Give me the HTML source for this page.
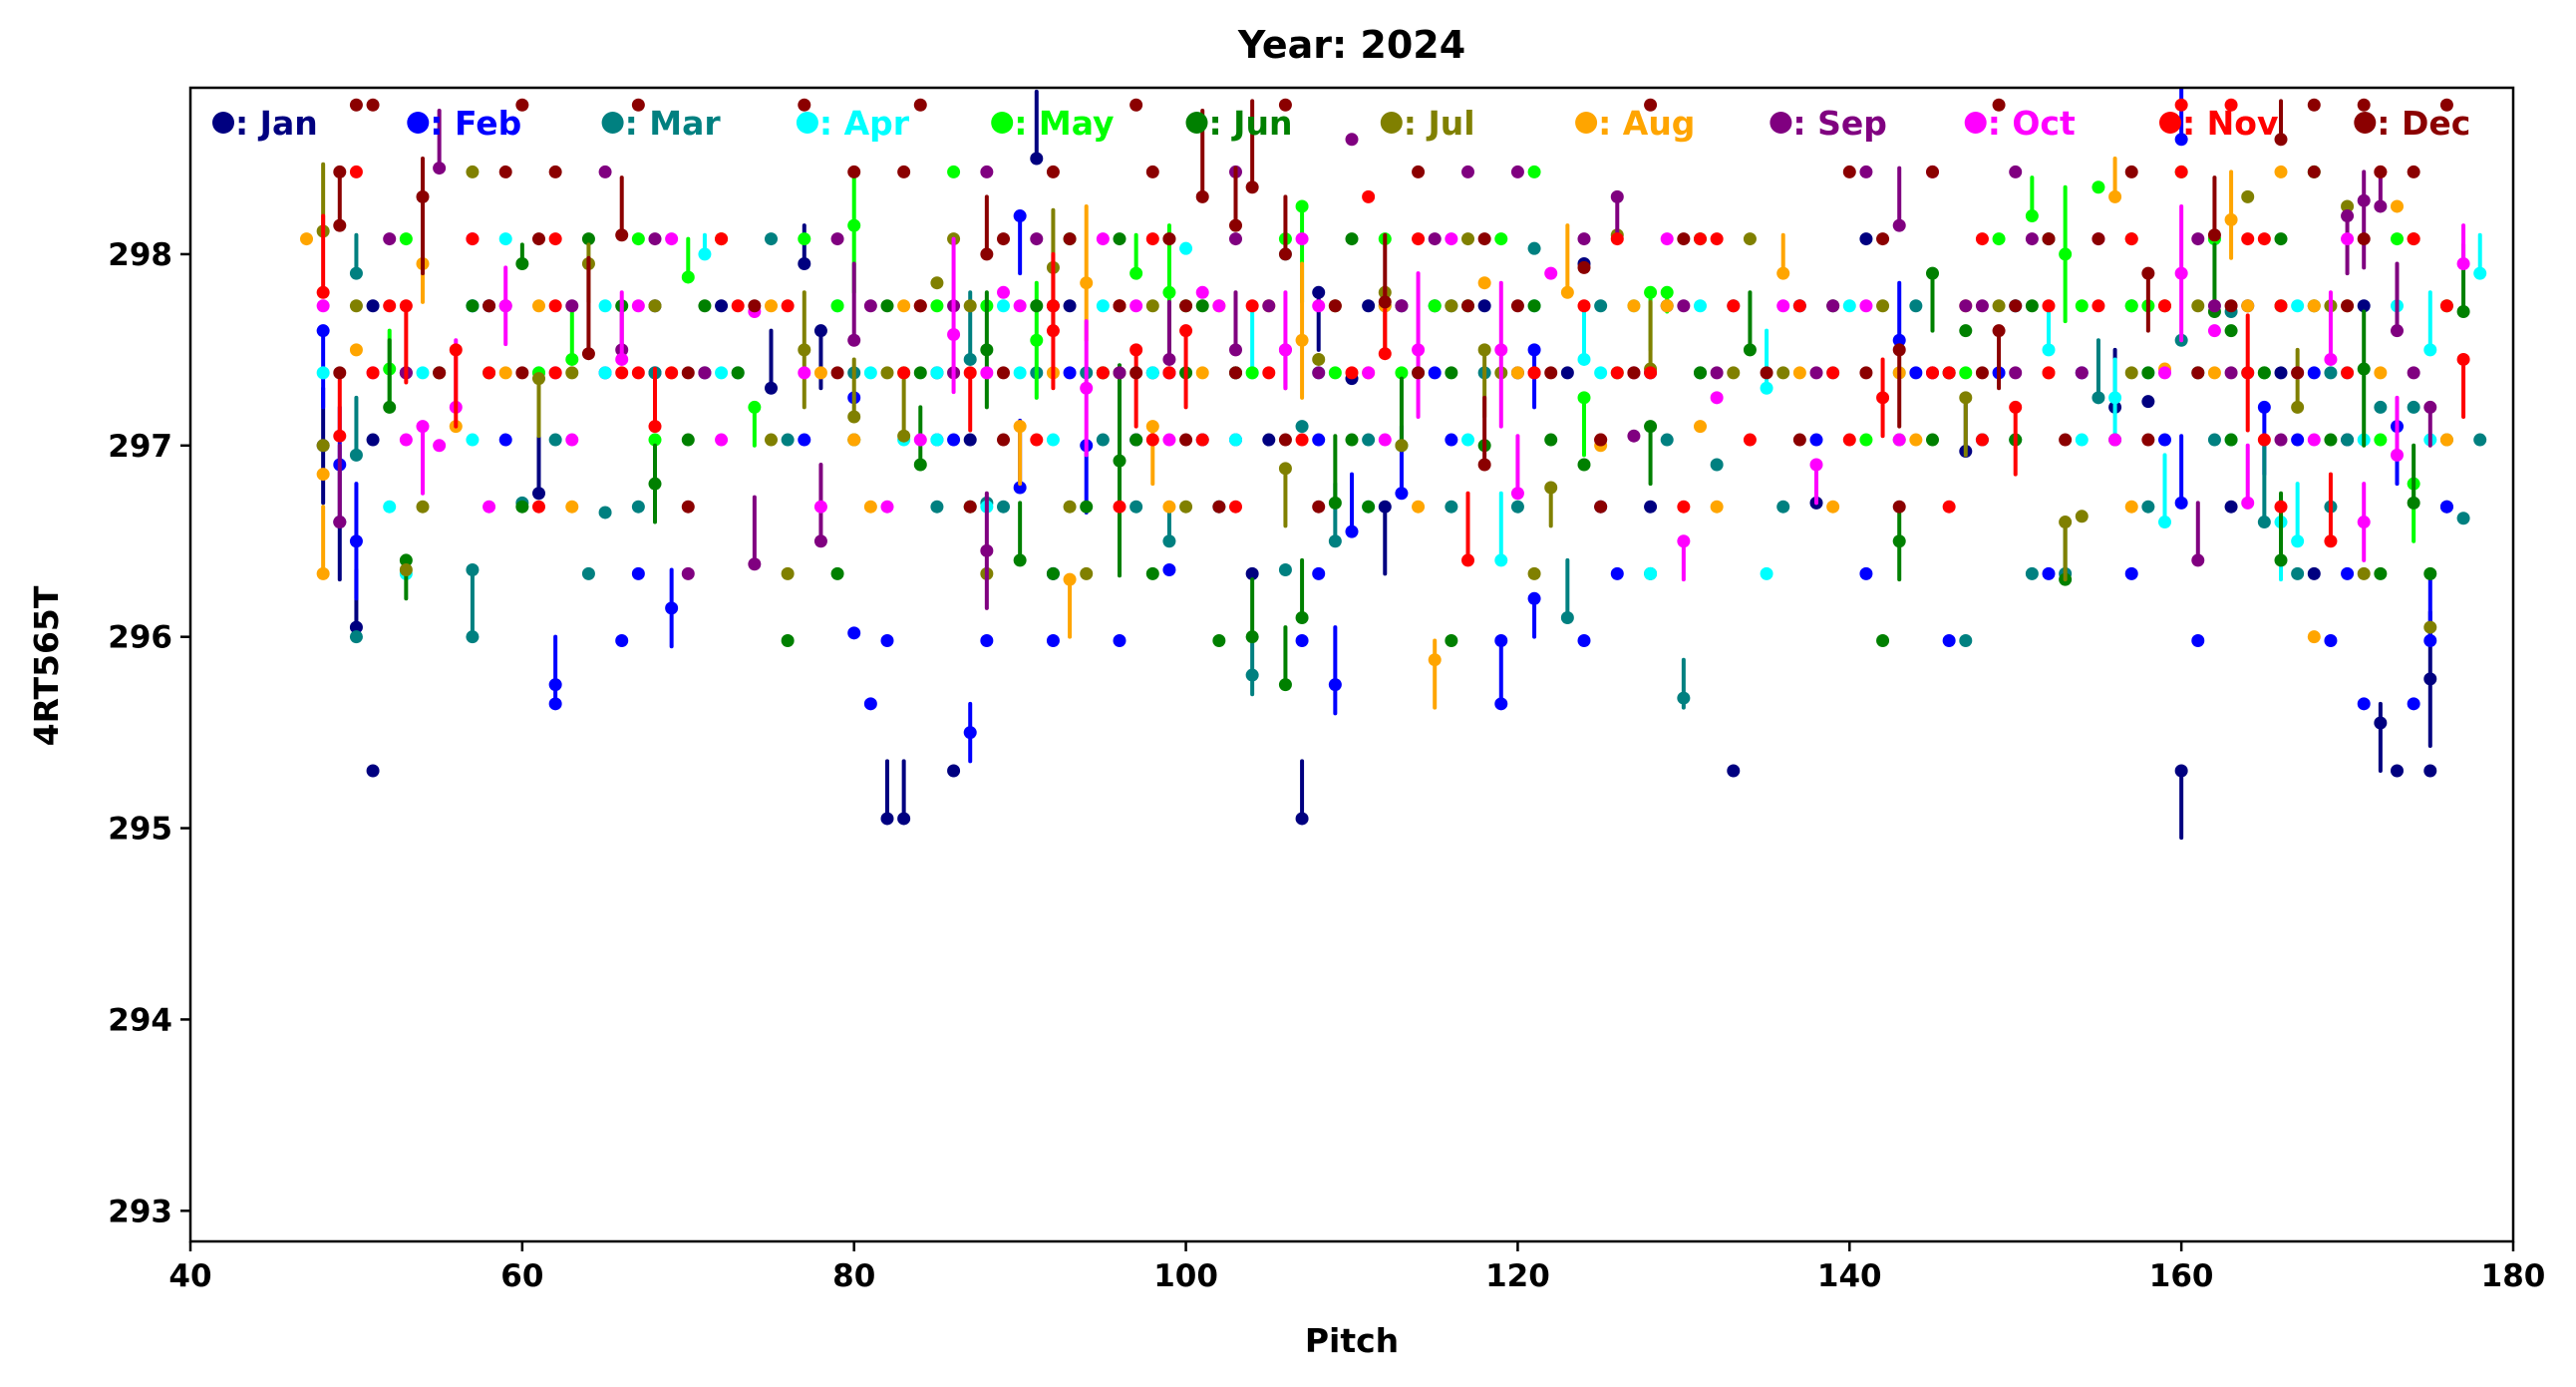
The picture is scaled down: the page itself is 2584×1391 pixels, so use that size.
<!DOCTYPE html>
<html><head><meta charset="utf-8"><style>
body{margin:0;background:#fff}
svg{display:block}
text{font-family:"DejaVu Sans","Liberation Sans",sans-serif;font-weight:bold}
</style></head><body>
<svg id="chart" width="2584" height="1391" viewBox="0 0 2584 1391" xmlns="http://www.w3.org/2000/svg">
<defs><clipPath id="plotclip"><rect x="191" y="88" width="2330" height="1157"/></clipPath></defs>
<text x="1356" y="58" font-size="38" text-anchor="middle">Year: 2024</text>
<g id="ticks"></g>
<g id="marks" clip-path="url(#plotclip)"></g>
<rect x="191" y="88" width="2330" height="1157" fill="none" stroke="#000" stroke-width="2.5"/>
<g id="legend"></g>
<text x="1356" y="1356" font-size="33" text-anchor="middle">Pitch</text>
<text x="58" y="668" font-size="33" text-anchor="middle" transform="rotate(-90 58 668)">4RT565T</text>
</svg>
<script>
const monthNames=["Jan","Feb","Mar","Apr","May","Jun","Jul","Aug","Sep","Oct","Nov","Dec"];
const monthColors=["#000080","#0000ff","#008080","#00ffff","#00ff00","#008000","#808000","#ffa500","#800080","#ff00ff","#ff0000","#8b0000"];
const xTicks=[40,60,80,100,120,140,160,180];
const yTicks=[293,294,295,296,297,298];
// [pitch, value, errLow, errHigh]
const jan=[[48,297.0,0.3,0.3],[49,296.6,0.3,0.3],[50,296.05,0,0.3],[51,295.3,0,0],[51,297.73,0,0],[61,296.75,0,0.3],[68,297.73,0,0],[68,297.38,0,0],[75,297.3,0,0.3],[77,297.95,0,0.2],[78,297.6,0.3,0],[86,295.3,0,0],[87,297.03,0,0],[91,298.5,0,0.35],[92,297.73,0,0],[99,297.38,0,0],[104,296.33,0,0],[105,297.03,0,0],[107,295.05,0,0.3],[108,297.8,0.3,0],[110,297.35,0,0],[112,296.68,0.35,0],[115,297.73,0,0],[120,297.38,0,0],[124,297.95,0,0],[125,296.68,0,0],[128,296.68,0,0],[133,295.3,0,0],[138,296.7,0,0],[141,298.08,0,0],[147,296.97,0,0.3],[150,297.73,0,0],[156,297.2,0,0.3],[158,297.23,0,0],[160,295.3,0.35,0],[163,296.68,0,0],[168,296.33,0,0],[170,297.03,0,0],[172,295.55,0.25,0.1],[173,295.3,0,0],[175,295.78,0.35,0.35],[175,295.3,0,0],[176,296.68,0,0],[82,295.05,0,0.3],[83,295.05,0,0.3],[51,297.03,0,0]];
const feb=[[48,297.6,0.4,0],[49,296.9,0,0.3],[50,296.5,0.3,0.3],[57,297.73,0,0],[62,295.75,0.1,0.25],[62,295.65,0,0],[66,295.98,0,0],[69,296.15,0.2,0.2],[80,296.02,0,0],[80,297.25,0,0],[81,295.65,0,0],[82,295.98,0,0],[86,297.03,0,0],[87,295.5,0.15,0.15],[88,295.98,0,0],[90,298.2,0.3,0],[90,296.78,0,0.35],[92,295.98,0,0],[94,297.0,0.35,0],[96,295.98,0,0],[99,296.35,0,0],[101,297.03,0,0],[103,297.03,0,0],[107,295.98,0,0],[109,295.75,0.15,0.3],[110,296.55,0,0.3],[113,296.75,0,0.35],[119,295.65,0,0.3],[119,295.98,0,0],[121,296.2,0.2,0],[121,297.5,0.3,0],[124,295.98,0,0],[137,297.73,0,0],[141,296.33,0,0],[143,297.55,0,0.3],[146,295.98,0,0],[149,297.38,0,0],[154,297.38,0,0],[157,296.33,0,0],[160,298.6,0,0.3],[160,296.7,0,0.35],[161,295.98,0,0],[165,297.2,0.35,0],[169,295.98,0,0],[171,295.65,0,0],[173,297.1,0.3,0],[174,295.65,0,0],[175,295.98,0,0.35],[176,296.68,0,0]];
const mar=[[50,296.0,0,0],[50,297.9,0,0.2],[50,296.95,0,0.3],[57,296.35,0.35,0],[57,296.0,0,0],[60,296.7,0,0],[64,296.33,0,0],[65,296.65,0,0],[73,297.38,0,0],[75,298.08,0,0],[85,296.68,0,0],[87,297.45,0,0.35],[88,296.7,0,0],[91,297.38,0,0],[99,296.5,0,0.2],[102,296.68,0,0],[104,295.8,0.1,0.2],[106,296.35,0,0],[107,297.1,0,0],[109,296.5,0,0.3],[112,297.73,0,0],[116,297.73,0,0],[121,298.03,0,0],[123,296.1,0,0.3],[125,297.73,0,0],[128,296.33,0,0],[130,295.68,0.05,0.2],[132,296.9,0,0],[133,297.73,0,0],[136,296.68,0,0],[144,297.73,0,0],[147,295.98,0,0],[151,296.33,0,0],[153,296.33,0,0],[155,297.25,0,0.3],[157,297.73,0,0],[160,297.55,0,0],[162,297.03,0,0],[163,297.7,0,0],[165,296.6,0,0.4],[167,296.33,0,0],[172,297.2,0,0],[174,297.2,0,0],[177,296.62,0,0],[178,297.03,0,0]];
const apr=[[48,297.38,0,0],[52,296.68,0,0],[53,296.33,0,0],[54,297.38,0,0],[57,297.73,0,0],[59,298.08,0,0],[65,297.38,0,0],[71,298.0,0,0.1],[81,297.38,0,0],[83,297.03,0,0],[85,297.38,0,0],[88,296.68,0,0],[92,297.03,0,0],[95,297.73,0,0],[100,298.03,0,0],[104,297.38,0,0.35],[106,298.0,0,0],[111,296.68,0,0],[114,297.38,0,0],[119,296.4,0,0.35],[124,297.45,0,0.3],[127,297.73,0,0],[128,296.33,0,0],[131,297.73,0,0],[135,296.33,0,0],[135,297.3,0,0.3],[137,297.73,0,0],[139,297.38,0,0],[152,297.5,0,0.25],[154,297.03,0,0],[156,297.25,0.2,0.2],[159,296.6,0,0.35],[162,298.08,0,0],[166,296.6,0.3,0],[167,296.5,0,0.3],[171,297.03,0,0],[173,297.73,0,0],[175,297.5,0,0.3],[178,297.9,0,0.2]];
const may=[[52,297.4,0.2,0.2],[58,297.38,0,0],[63,297.45,0,0.25],[68,297.03,0,0],[70,297.88,0,0.2],[74,297.2,0.2,0],[79,297.73,0,0],[80,298.15,0.35,0.3],[86,298.43,0,0],[88,297.73,0,0],[91,297.55,0.3,0.3],[97,297.9,0,0.2],[99,297.8,0.3,0.35],[104,297.38,0,0],[107,298.25,0.5,0],[109,297.38,0,0],[117,297.73,0,0],[119,298.08,0,0],[121,298.43,0,0],[124,297.25,0.3,0],[128,297.8,0.3,0],[129,297.8,0.1,0],[141,297.03,0,0],[143,297.03,0,0],[151,298.2,0,0.2],[153,298.0,0.35,0.35],[155,298.35,0,0],[157,297.73,0,0],[160,298.43,0,0],[166,297.73,0,0],[168,298.43,0,0],[172,297.03,0,0],[174,296.8,0.3,0],[176,297.73,0,0]];
const jun=[[52,297.2,0,0.35],[53,296.4,0.2,0],[60,297.95,0,0.1],[60,296.68,0,0],[66,297.73,0,0],[68,296.8,0.2,0.2],[76,295.98,0,0],[79,296.33,0,0],[84,296.9,0,0.3],[87,296.68,0,0],[88,297.5,0.3,0.3],[90,296.4,0,0.3],[92,296.33,0,0],[94,296.68,0,0],[96,296.92,0.6,0.5],[98,296.33,0,0],[100,297.38,0,0],[102,295.98,0,0],[104,296.0,0,0.3],[106,295.75,0,0.3],[107,296.1,0,0.3],[109,296.7,0,0.35],[111,296.68,0,0],[113,297.0,0,0.35],[116,295.98,0,0],[118,297.0,0,0],[124,296.9,0,0],[128,297.1,0.3,0],[134,297.5,0,0.3],[142,295.98,0,0],[143,296.5,0.2,0.2],[145,297.9,0.3,0],[147,297.6,0,0],[150,297.03,0,0],[153,296.3,0,0.3],[158,297.38,0,0],[162,297.7,0,0.35],[163,297.6,0,0],[166,296.4,0,0.35],[169,297.03,0,0],[171,297.4,0.4,0.3],[172,296.33,0,0],[174,296.7,0,0.3],[175,296.33,0,0],[177,297.7,0,0.35]];
const jul=[[48,298.12,0,0.35],[48,297.0,0,0],[53,296.35,0,0],[54,296.68,0,0],[55,297.38,0,0],[57,298.43,0,0],[61,297.35,0.3,0],[64,297.95,0.2,0.1],[75,297.03,0,0],[76,296.33,0,0],[77,297.5,0.3,0.3],[80,297.15,0,0.3],[83,297.05,0,0.35],[85,297.85,0,0],[88,296.33,0,0],[92,297.93,0.3,0.3],[93,296.68,0,0],[94,296.33,0,0],[100,296.68,0,0],[106,296.88,0.3,0],[108,297.45,0,0],[112,297.8,0.3,0],[113,297.0,0,0],[118,297.5,0.35,0],[121,296.33,0,0],[122,296.78,0.2,0],[126,298.1,0,0],[128,297.4,0,0.35],[133,297.38,0,0],[147,297.25,0.3,0],[149,297.73,0,0],[153,296.6,0.3,0],[154,296.63,0,0],[159,297.73,0,0],[164,298.3,0,0],[167,297.2,0,0.3],[170,298.25,0,0],[171,296.33,0,0],[174,298.08,0,0],[175,296.05,0,0],[176,297.03,0,0]];
const aug=[[47,298.08,0,0],[48,296.33,0,0.35],[48,296.85,0,0],[50,297.5,0,0],[54,297.95,0.2,0.2],[56,297.1,0,0],[72,298.08,0,0],[80,297.03,0,0],[86,297.38,0,0],[90,297.1,0.3,0],[93,296.3,0.3,0],[94,297.85,0.3,0.4],[98,297.1,0.3,0],[102,297.73,0,0],[107,297.55,0.3,0.4],[112,297.73,0,0],[115,295.88,0.25,0.1],[118,297.85,0,0],[123,297.8,0,0.35],[125,297.0,0,0],[129,297.73,0,0],[131,297.1,0,0],[132,296.68,0,0],[136,297.9,0,0.2],[143,297.38,0,0],[144,297.03,0,0],[156,298.3,0,0.2],[159,297.4,0,0],[163,298.18,0.2,0.25],[166,298.43,0,0],[168,296.0,0,0],[168,297.73,0,0],[170,297.73,0,0],[173,298.25,0,0],[176,297.03,0,0]];
const sep=[[49,296.6,0,0.4],[52,298.08,0,0],[55,298.45,0,0.3],[59,297.73,0,0],[66,297.5,0,0.25],[70,296.33,0,0],[74,296.38,0,0.35],[78,296.5,0,0.4],[80,297.55,0,0.4],[86,297.73,0,0],[88,296.45,0.3,0.3],[99,297.45,0,0.3],[103,297.5,0,0.3],[106,297.5,0.2,0],[110,298.6,0,0],[113,297.73,0,0],[117,298.43,0,0],[126,298.3,0.2,0],[127,297.05,0,0],[132,297.38,0,0],[139,297.73,0,0],[143,298.15,0,0.3],[147,297.73,0,0],[150,297.38,0,0],[161,296.4,0,0.3],[162,297.73,0,0],[166,297.03,0,0],[170,298.2,0.3,0],[171,298.28,0.35,0.15],[172,298.25,0,0.2],[173,297.6,0,0.35],[175,297.2,0.2,0]];
const oct=[[48,297.73,0,0],[53,297.03,0,0],[54,297.1,0.35,0],[55,297.0,0,0],[56,297.2,0,0.35],[58,296.68,0,0],[59,297.73,0.2,0.2],[63,297.03,0,0],[66,297.45,0,0.35],[74,297.7,0,0],[78,296.68,0,0],[82,296.68,0,0],[86,297.58,0.3,0.5],[89,297.8,0,0],[94,297.3,0.35,0.35],[97,297.73,0,0],[101,297.8,0,0],[106,297.5,0.2,0.3],[108,297.73,0,0],[114,297.5,0.35,0.4],[119,297.5,0.4,0.35],[120,296.75,0,0.3],[122,297.9,0,0],[130,296.5,0.2,0],[132,297.25,0,0],[138,296.9,0.2,0],[145,298.43,0,0],[160,297.9,0.35,0.35],[162,297.6,0,0],[164,296.7,0,0.3],[169,297.45,0,0.35],[171,296.6,0.2,0.2],[173,296.95,0,0.3],[177,297.95,0,0.2]];
const nov=[[48,297.8,0,0.4],[49,297.05,0,0.35],[50,298.43,0,0],[53,297.73,0.4,0],[56,297.5,0.4,0],[62,298.08,0,0],[66,297.38,0,0],[68,297.1,0,0.3],[76,297.73,0,0],[84,297.73,0,0],[87,297.38,0.3,0],[92,297.6,0.3,0.4],[97,297.5,0.4,0],[100,297.6,0.4,0],[101,297.03,0,0],[111,298.3,0,0],[112,297.48,0,0.35],[117,296.4,0,0.35],[121,297.38,0,0],[124,297.73,0,0],[128,297.38,0,0],[131,298.08,0,0],[142,297.25,0.2,0.2],[146,297.38,0,0],[150,297.2,0.35,0],[152,297.73,0,0],[159,297.73,0,0],[160,298.43,0,0],[164,297.38,0.3,0.3],[166,297.73,0,0],[169,296.5,0,0.35],[172,298.43,0,0],[174,298.08,0,0],[177,297.45,0.3,0],[160,298.78,0,0],[163,298.78,0,0],[164,298.08,0,0]];
const dec=[[49,298.15,0,0.3],[49,298.43,0,0],[51,298.78,0,0],[54,298.3,0.4,0.2],[62,298.43,0,0],[64,297.48,0,0.5],[66,298.1,0,0.3],[70,297.38,0,0],[74,297.73,0,0],[83,298.43,0,0],[88,298.0,0,0.3],[93,298.08,0,0],[100,297.73,0,0],[101,298.3,0,0.45],[103,298.15,0,0.3],[104,298.35,0,0.45],[106,298.0,0,0.3],[109,297.73,0,0],[112,297.75,0,0.35],[118,296.9,0,0.35],[122,297.38,0,0],[124,297.93,0,0],[127,297.38,0,0],[130,298.08,0,0],[140,298.43,0,0],[143,297.5,0.4,0],[145,298.43,0,0],[149,297.6,0.3,0],[155,298.08,0,0],[158,297.9,0.3,0],[162,298.1,0,0.3],[166,298.6,0,0.2],[168,298.78,0,0],[170,297.73,0,0],[172,298.43,0,0],[174,298.43,0,0],[176,298.78,0,0],[50,298.78,0,0],[60,298.78,0,0],[67,298.78,0,0],[77,298.78,0,0],[84,298.78,0,0],[97,298.78,0,0],[106,298.78,0,0],[128,298.78,0,0],[149,298.78,0,0],[171,298.78,0,0]];
// extra single-level rows: [monthIndex, value, pitches]
const rows=[
[10,297.38,[51,58,62,67,69,83,95,99,105,110,126,139,145,152,170]],
[11,297.38,[49,55,60,79,89,97,103,114,135,141,148,161,167]],
[10,297.73,[52,62,73,92,96,104,133,137,155,176]],
[11,297.73,[58,84,96,117,120,150,163]],
[10,298.08,[57,72,98,114,126,132,148,157,165]],
[11,298.08,[61,89,99,118,142,152,171]],
[10,297.03,[91,98,107,125,134,140,148,165]],
[11,297.03,[89,100,106,125,137,153,158]],
[5,297.38,[73,84,95,103,116,131,146,161,165]],
[6,297.38,[63,82,96,119,127,136,157]],
[8,297.73,[63,81,105,113,130,148]],
[9,297.73,[67,90,102,136,141]],
[5,298.08,[64,96,110,152,166]],
[4,297.73,[85,100,115,154,158]],
[0,297.73,[58,72,93,111,118,129,164,171]],
[0,297.38,[53,71,85,98,123,146,166]],
[1,297.03,[59,77,85,97,108,116,138,148,159,167]],
[1,297.38,[65,93,115,128,144,168]],
[2,297.38,[55,68,80,94,103,118,131,145,164,169]],
[2,297.03,[62,76,95,111,129,150,170]],
[3,297.38,[61,72,90,98,108,125,143,158,170]],
[3,297.73,[65,79,89,113,121,140,150,167]],
[3,297.03,[57,85,103,117,148,163,175]],
[4,298.08,[53,67,77,93,106,112,131,149,162,173]],
[4,297.38,[61,83,95,113,126,147,165]],
[5,297.73,[57,71,82,91,101,121,139,151,168]],
[5,297.03,[70,80,97,110,122,145,156,163]],
[6,297.73,[50,68,87,98,109,116,142,161,169]],
[6,298.08,[72,86,99,117,134,157]],
[7,297.38,[59,69,78,92,101,111,120,137,152,162,172]],
[7,297.73,[61,75,83,96,105,127,147,164]],
[8,297.38,[53,71,86,96,108,121,138,154,163,174]],
[8,298.08,[68,79,91,103,115,124,151,161]],
[9,297.38,[51,62,77,88,99,111,127,145,159,167]],
[9,298.08,[57,69,95,107,116,129,155,170]],
[9,297.03,[72,84,99,112,143,156,168]],
[10,296.68,[61,96,103,130,146,166]],
[11,296.68,[70,87,102,108,125,143]],
[2,296.68,[67,89,97,116,120,158,169]],
[1,296.33,[67,92,108,126,152,170]],
[7,296.68,[63,81,99,114,139,157]],
[11,298.43,[59,80,92,98,114,157,168]],
[8,298.43,[65,88,103,120,141,150]]
];
const series=[jan,feb,mar,apr,may,jun,jul,aug,sep,oct,nov,dec];

const NS="http://www.w3.org/2000/svg";
const X0=191,X1=2521,Y0=88,Y1=1245,XMIN=40,XMAX=180,YMIN=292.84,YMAX=298.87;
function sx(v){return X0+(v-XMIN)/(XMAX-XMIN)*(X1-X0);}
function sy(v){return Y1-(v-YMIN)/(YMAX-YMIN)*(Y1-Y0);}
function mk(tag,attrs,parent){const e=document.createElementNS(NS,tag);for(const k in attrs)e.setAttribute(k,attrs[k]);parent.appendChild(e);return e;}

const tg=document.getElementById('ticks');
xTicks.forEach(t=>{
  const l=mk('line',{x1:sx(t),x2:sx(t),y1:Y1,y2:Y1+10,stroke:'#000','stroke-width':2.5},tg);
  
  
  const tx=mk('text',{x:sx(t),y:Y1+45,'font-size':31,'text-anchor':'middle'},tg);
  tx.textContent=t;
  
  
});
yTicks.forEach(t=>{
  const l=mk('line',{x1:X0-10,x2:X0,y1:sy(t),y2:sy(t),stroke:'#000','stroke-width':2.5},tg);
  
  
  const tx=mk('text',{x:X0-18,y:sy(t)+11,'font-size':31,'text-anchor':'end'},tg);
  tx.textContent=t;
  
  
});

const mg=document.getElementById('marks');
function drawPoint(g,c,x,y,lo,hi){
  if(lo>0||hi>0){
    const l=mk('line',{x1:sx(x),x2:sx(x),y1:sy(y-lo),y2:sy(y+hi),stroke:c,'stroke-width':4,'stroke-linecap':'round'},g);
    
    
  }
  const d=mk('circle',{cx:sx(x),cy:sy(y),r:6.5,fill:c},g);
  
  
}
series.forEach((s,i)=>{
  const g=mk('g',{},mg);
  
  
  const c=monthColors[i];
  rows.filter(r=>r[0]===i).forEach(r=>r[2].forEach(x=>drawPoint(g,c,x,r[1],0,0)));
  s.forEach(p=>drawPoint(g,c,p[0],p[1],p[2],p[3]));
});

const lg=document.getElementById('legend');
monthNames.forEach((m,i)=>{
  const g=mk('g',{},lg);
  
  
  const cx=224+i*195.3;
  mk('circle',{cx:cx,cy:123,r:11,fill:monthColors[i]},g);
  const t=mk('text',{x:cx+12,y:135,'font-size':33,fill:monthColors[i]},g);
  t.textContent=': '+m;
});
</script>
</body></html>
